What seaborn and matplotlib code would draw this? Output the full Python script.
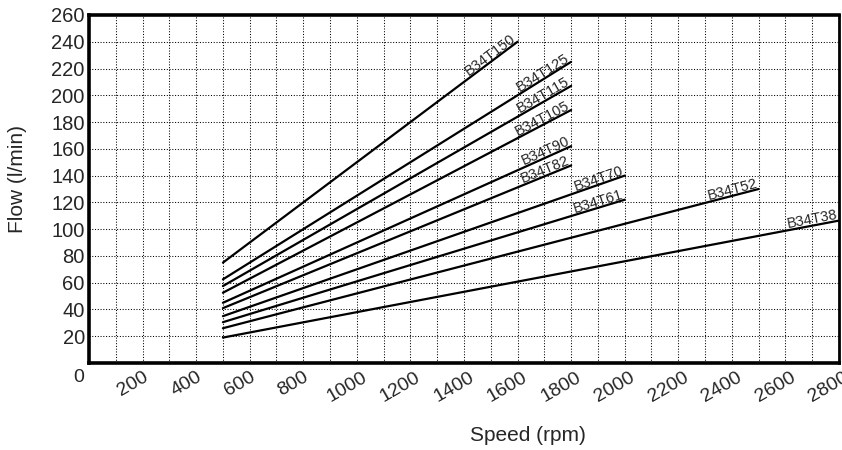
import numpy as np
import pandas as pd
import matplotlib
matplotlib.use('Agg')
import matplotlib.pyplot as plt
import matplotlib.transforms as mtransforms
import seaborn as sns

# pump models
models = ['B34T150', 'B34T125', 'B34T115', 'B34T105', 'B34T90',
          'B34T82', 'B34T70', 'B34T61', 'B34T52', 'B34T38']
speed_start = [500, 500, 500, 500, 500, 500, 500, 500, 500, 500]
speed_end = [1600, 1800, 1800, 1800, 1800, 1800, 2000, 2000, 2500, 2800]
flow_start = [75, 62.5, 57.5, 52.5, 45, 41, 35, 30.5, 26, 19]
flow_end = [240, 225, 207, 189, 162, 147.6, 140, 122, 130, 106.4]

x_ticks = list(range(0, 2801, 200))
y_ticks = list(range(20, 261, 20))

rows = []
for m, x0, x1, y0, y1 in zip(models, speed_start, speed_end, flow_start, flow_end):
    rows.append({'model': m, 'speed': x0, 'flow': y0})
    rows.append({'model': m, 'speed': x1, 'flow': y1})
df = pd.DataFrame(rows)

sns.set_style('white')
plt.rcParams['font.family'] = ['Liberation Sans', 'DejaVu Sans']

fig = plt.figure(figsize=(8.42, 4.5), dpi=100)
ax = fig.add_axes([0.1057, 0.1933, 0.8907, 0.7734])

sns.lineplot(data=df, x='speed', y='flow', hue='model', hue_order=models,
             palette=['black'] * len(models), linewidth=1.6, legend=False, ax=ax)

ax.set_xlim(0, 2800)
ax.set_ylim(0, 260)
ax.set_xticks(x_ticks)
ax.set_xticks(range(100, 2800, 200), minor=True)
ax.set_yticks(y_ticks)
ax.set_xticklabels([str(v) for v in x_ticks], rotation=30, fontsize=14)
ax.set_yticklabels([str(v) for v in y_ticks], fontsize=14.5)
ax.tick_params(axis='both', which='both', length=0)
ax.tick_params(axis='y', pad=3)
ax.tick_params(axis='x', pad=4)
ax.grid(True, which='both', linestyle=':', linewidth=0.75, color='black')

# x labels sit a bit left of their tick, the 0 is upright
shift = mtransforms.ScaledTranslation(-0.1, 0, fig.dpi_scale_trans)
for lab in ax.get_xticklabels():
    lab.set_transform(lab.get_transform() + shift)
ax.get_xticklabels()[0].set_rotation(0)

for side in ['left', 'bottom', 'top', 'right']:
    ax.spines[side].set_color('black')
    ax.spines[side].set_linewidth(2.6)
ax.spines['right'].set_linewidth(2.0)

ax.set_xlabel('Speed (rpm)', fontsize=15)
ax.set_ylabel('Flow (l/min)', fontsize=15)
ax.xaxis.set_label_coords(0.585, -0.182)
ax.yaxis.set_label_coords(-0.083, 0.53)

# labels sitting on the end of each line
for m, x0, x1, y0, y1 in zip(models, speed_start, speed_end, flow_start, flow_end):
    p0 = ax.transData.transform((x0, y0))
    p1 = ax.transData.transform((x1, y1))
    ang = np.degrees(np.arctan2(p1[1] - p0[1], p1[0] - p0[0]))
    rad = np.radians(ang)
    ax.annotate(m, (x1, y1), xytext=(-1.5 * np.sin(rad), 1.5 * np.cos(rad)),
                textcoords='offset points', rotation=ang, rotation_mode='anchor',
                ha='right', va='baseline', fontsize=10.5, annotation_clip=False,
                clip_on=True)

fig.savefig('out.png', dpi=100)
